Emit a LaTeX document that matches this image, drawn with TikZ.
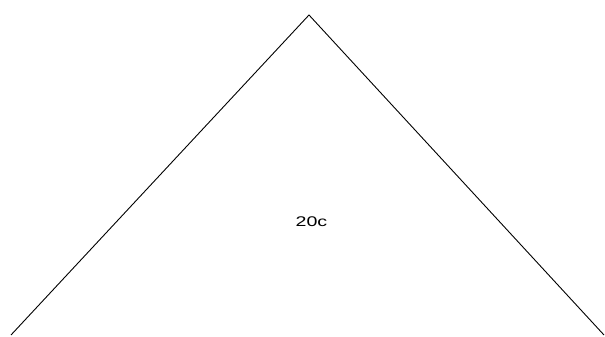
\documentclass[tikz,border=0pt]{standalone}
\usepackage{fontspec}
\setmainfont{Liberation Sans}
\usepackage{tikz}

\begin{document}
\begin{tikzpicture}[x=1pt,y=1pt]
\useasboundingbox (0,0) rectangle (605,337);
% Corners
\coordinate (left) at (11,2);
\coordinate (apex) at (309,322);
\coordinate (right) at (604,2);

% Sides
\draw[line width=0.9pt] (left) -- (apex) -- (right);

% Label
\node[font=\fontsize{14}{16}\selectfont] (temp) at (311.5,115) {\scalebox{1.4}[1]{20c}};
\end{tikzpicture}
\end{document}
